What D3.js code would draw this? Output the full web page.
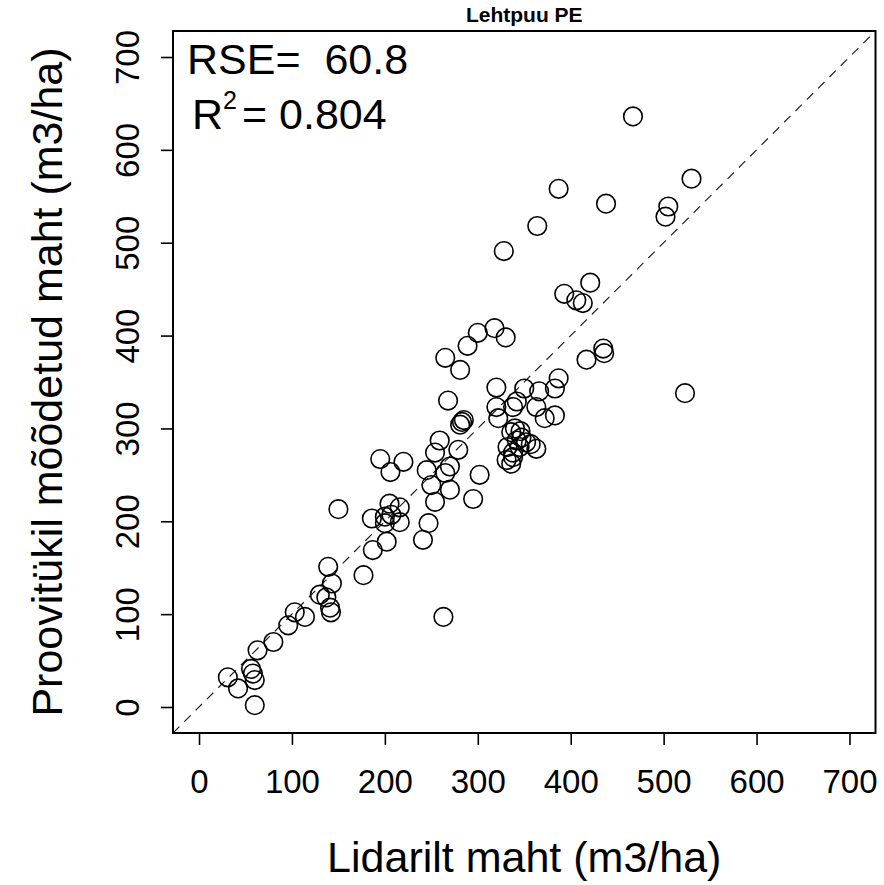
<!DOCTYPE html>
<html>
<head>
<meta charset="utf-8">
<script src="https://cdn.jsdelivr.net/npm/d3@7"></script>
<style>
  html, body { margin: 0; padding: 0; background: #fff; }
  text { font-family: "Liberation Sans", Arial, sans-serif; }
</style>
</head>
<body>
<svg id="chart" width="884" height="885"></svg>
<script>
// ---- Data ----
const title = "Lehtpuu PE";
const xLabel = "Lidarilt maht (m3/ha)";
const yLabel = "Proovitükil mõõdetud maht (m3/ha)";
const rseText = "RSE=  60.8";
const r2Value = "0.804";
const tickValues = [0, 100, 200, 300, 400, 500, 600, 700];

// Lidar-estimated volume (x)
const lidar = [
  467, 530, 505, 502, 387, 438, 364, 328, 421, 393, 406, 413,
  300, 318, 330, 289, 265, 435, 436, 417, 523,
  281, 320, 268, 350, 366, 387, 383, 320, 342, 338, 363, 372, 383, 322,
  283, 281, 285, 259, 254, 279, 245, 270, 265, 336, 342, 345, 363, 338, 336,
  302, 250, 270, 254, 295, 195, 220, 206, 150, 205, 216, 186, 200, 207, 216,
  200, 202, 187, 247, 241, 177, 263,
  347, 352, 357, 340, 346, 331, 332, 338,
  139, 143, 130, 137, 141, 142, 103, 114, 96, 80, 63, 56, 58, 60, 31, 42, 60
];
// Plot-measured volume (y)
const measured = [
  636, 569, 539, 528, 558, 542, 518, 491, 457, 445, 438, 435,
  403, 408, 398, 389, 376, 386, 381, 374, 338,
  363, 344, 330, 343, 340, 354, 343, 323, 329, 323, 323, 311, 314, 311,
  307, 304, 309, 287, 274, 277, 255, 259, 252, 296, 287, 280, 278, 269, 262,
  250, 239, 234, 221, 224, 267, 264, 253, 213, 219, 215, 203, 205, 207, 199,
  198, 178, 169, 198, 180, 142, 97,
  290, 285, 283, 300, 297, 266, 280, 274,
  151, 133, 121, 118, 107, 102, 102, 97, 88, 70, 61, 41, 36, 29, 32, 20, 2
];

// ---- Chart ----
const svg = d3.select("#chart");
const domain = [-28, 728];
const x = d3.scaleLinear().domain(domain).range([173, 875.5]);
const y = d3.scaleLinear().domain(domain).range([733, 31]);

const font = '"Liberation Sans", Arial, sans-serif';

// 1:1 dashed reference line across the plot region
svg.append("defs").append("clipPath").attr("id", "plotclip")
  .append("rect")
  .attr("x", x(domain[0])).attr("y", y(domain[1]))
  .attr("width", x(domain[1]) - x(domain[0]))
  .attr("height", y(domain[0]) - y(domain[1]));

svg.append("line")
  .attr("clip-path", "url(#plotclip)")
  .attr("x1", x(domain[0])).attr("y1", y(domain[0]))
  .attr("x2", x(domain[1])).attr("y2", y(domain[1]))
  .attr("stroke", "#222").attr("stroke-width", 1.2)
  .attr("stroke-dasharray", "9,7");

// Points
const pts = lidar.map((v, i) => ({ x: v, y: measured[i] }));
svg.append("g").selectAll("circle").data(pts).enter().append("circle")
  .attr("cx", d => x(d.x)).attr("cy", d => y(d.y)).attr("r", 9.3)
  .attr("fill", "none").attr("stroke", "#000").attr("stroke-width", 1.6);

// Box
svg.append("rect")
  .attr("x", x(domain[0])).attr("y", y(domain[1]))
  .attr("width", x(domain[1]) - x(domain[0]))
  .attr("height", y(domain[0]) - y(domain[1]))
  .attr("fill", "none").attr("stroke", "#000").attr("stroke-width", 2);

// X axis
const xAxis = svg.append("g").attr("transform", `translate(0,${y(domain[0])})`)
  .call(d3.axisBottom(x).tickValues(tickValues).tickSize(12).tickPadding(25).tickFormat(d3.format("d")));
xAxis.select(".domain").remove();
xAxis.selectAll(".tick line").attr("stroke", "#000").attr("stroke-width", 1.6);
xAxis.selectAll(".tick text").attr("font-family", font).attr("font-size", 33).attr("fill", "#000");

// Y axis (labels rotated, as in R with las=0)
const yAxis = svg.append("g").attr("transform", `translate(${x(domain[0])},0)`)
  .call(d3.axisLeft(y).tickValues(tickValues).tickSize(12).tickFormat(d3.format("d")));
yAxis.select(".domain").remove();
yAxis.selectAll(".tick line").attr("stroke", "#000").attr("stroke-width", 1.6);
yAxis.selectAll(".tick text")
  .attr("font-family", font).attr("font-size", 33).attr("fill", "#000")
  .attr("x", null).attr("dy", null)
  .attr("text-anchor", "middle")
  .attr("transform", "translate(-34,0) rotate(-90)")
  .attr("y", 0);

// Title
svg.append("text").attr("x", (x(domain[0]) + x(domain[1])) / 2).attr("y", 22)
  .attr("text-anchor", "middle").attr("font-family", font)
  .attr("font-weight", "bold").attr("font-size", 21).text(title);

// Axis titles
svg.append("text").attr("x", (x(domain[0]) + x(domain[1])) / 2).attr("y", 872)
  .attr("text-anchor", "middle").attr("font-family", font)
  .attr("font-size", 43).text(xLabel);
svg.append("text")
  .attr("transform", `translate(62,${(y(domain[0]) + y(domain[1])) / 2}) rotate(-90)`)
  .attr("text-anchor", "middle").attr("font-family", font)
  .attr("font-size", 43).text(yLabel);

// Statistics annotations
svg.append("text").attr("x", 187).attr("y", 74).attr("font-family", font)
  .attr("font-size", 43).attr("xml:space", "preserve").style("white-space", "pre").text(rseText);
const r2 = svg.append("text").attr("x", 192).attr("y", 129).attr("font-family", font).attr("font-size", 43);
r2.append("tspan").text("R");
r2.append("tspan").attr("font-size", 25).attr("dy", -20).text("2");
r2.append("tspan").attr("dy", 20).attr("dx", 5).text("= " + r2Value);
</script>
</body>
</html>
